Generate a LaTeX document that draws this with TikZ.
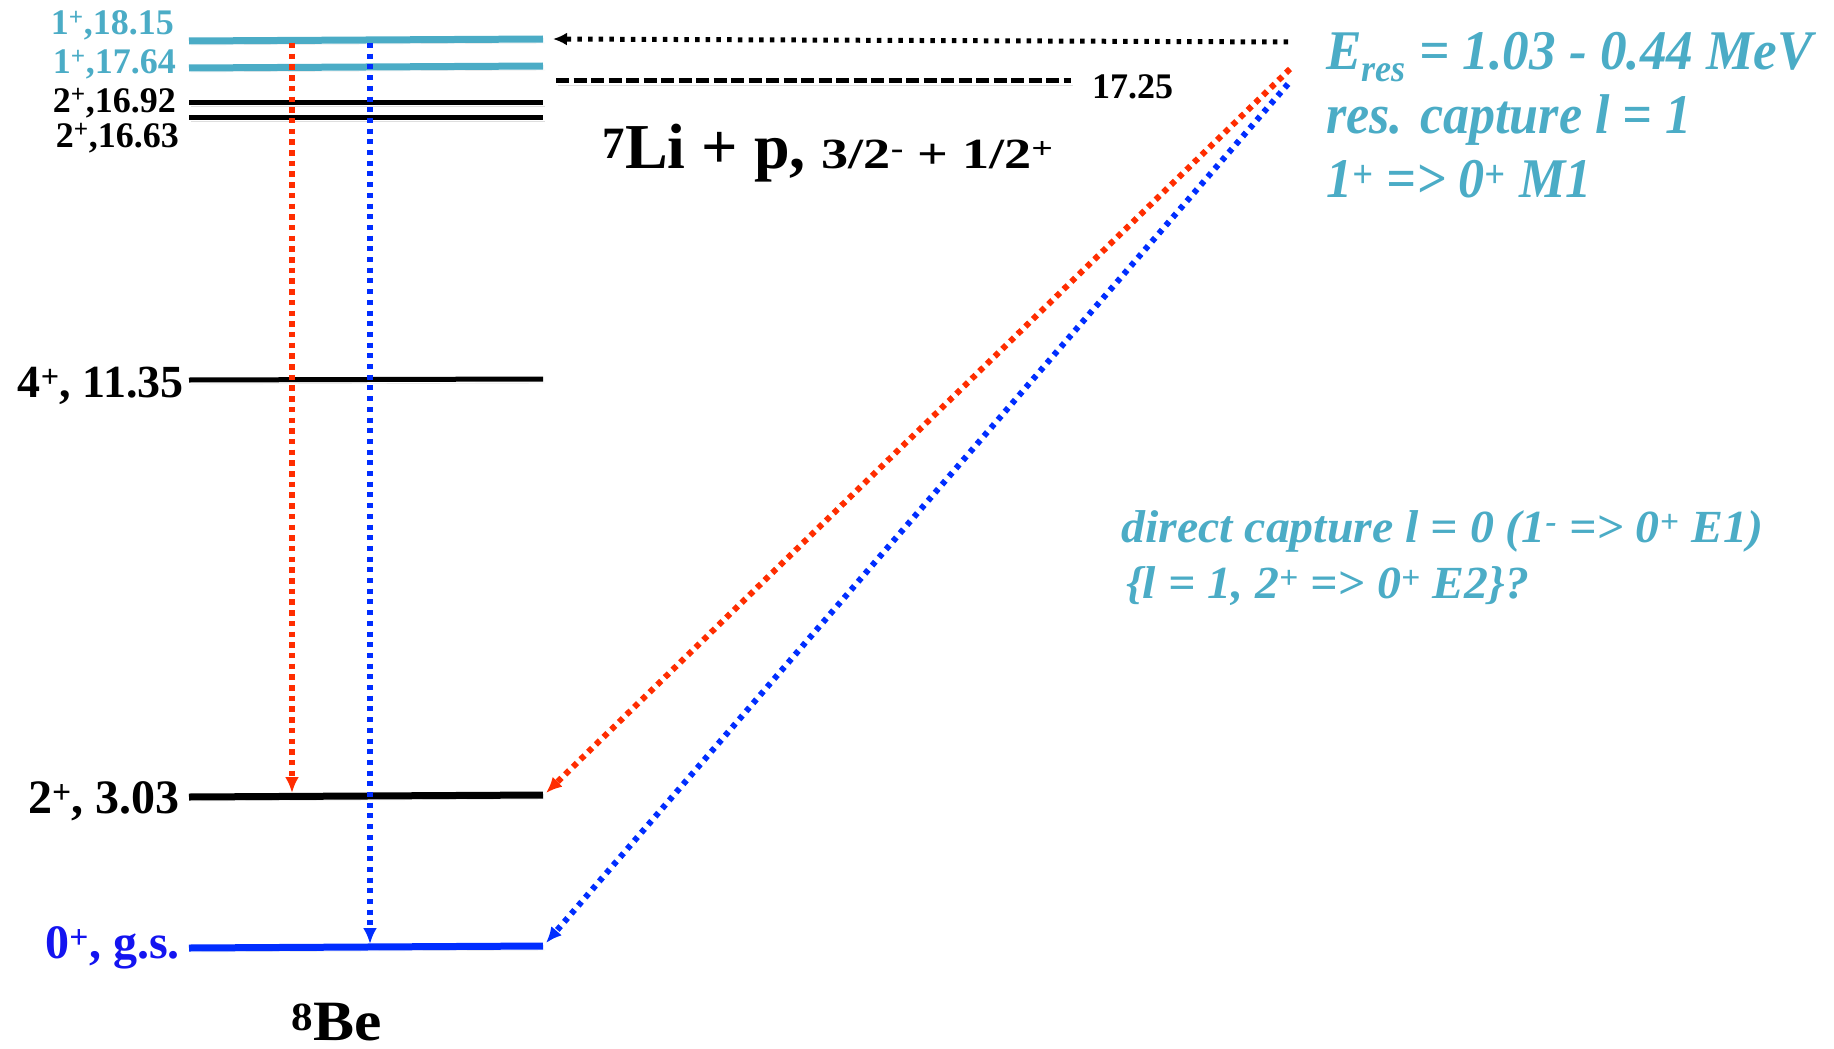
\documentclass[tikz,border=0pt]{standalone}
\usepackage{fontspec}
\setmainfont{Liberation Serif}
\usetikzlibrary{arrows.meta}
\definecolor{cy}{RGB}{75,172,198}
\definecolor{rd}{RGB}{255,45,0}
\definecolor{bl}{RGB}{0,45,255}
\definecolor{gsblue}{RGB}{20,20,240}
\newcommand{\fs}[1]{\fontsize{#1}{#1}\selectfont}
\newcommand{\nar}[2]{\scalebox{#1}[1]{#2}}
\newcommand{\spr}[1]{\textsuperscript{#1}}
\begin{document}
\begin{tikzpicture}[x=1pt,y=-1pt,
  shadow/.style={preaction={draw=black!13,transform canvas={shift={(2pt,-4pt)}}}},
  lvlcyan/.style={shadow,line width=7pt,draw=cy},
  lvlthin/.style={shadow,line width=5pt,draw=black},
  lvlthick/.style={shadow,line width=7pt,draw=black},
  lvlgs/.style={shadow,line width=7pt,draw=bl},
  lab/.style={inner sep=0pt,anchor=base east,font=\bfseries\fs{36}},
  txt/.style={inner sep=0pt,anchor=base west},
  cyt/.style={inner sep=0pt,anchor=base west,text=cy,font=\bfseries\itshape\fs{56}},
  cyd/.style={inner sep=0pt,anchor=base west,text=cy,font=\bfseries\itshape\fs{46}},
  dotred/.style={draw=rd,line width=6pt,dash pattern=on 5.5pt off 5.2pt},
  dotblue/.style={draw=bl,line width=6pt,dash pattern=on 5pt off 5.7pt},
  dotblack/.style={draw=black,line width=5pt,dash pattern=on 4.5pt off 6.2pt},
  tipr/.style={-{Latex[length=16pt,width=14pt]}},
  tipb/.style={-{Latex[length=14pt,width=13pt]}}
]
\path[use as bounding box] (0,0) rectangle (1834,1049);
% level endpoints
\coordinate (a1) at (189,41);  \coordinate (b1) at (543,39);
\coordinate (a2) at (189,68);  \coordinate (b2) at (543,66);
\coordinate (a3) at (189,102); \coordinate (b3) at (543,102);
\coordinate (a4) at (189,117); \coordinate (b4) at (543,117);
\coordinate (a5) at (189,380); \coordinate (b5) at (543,379);
\coordinate (a6) at (189,797); \coordinate (b6) at (543,795);
\coordinate (a7) at (189,948); \coordinate (b7) at (543,946);
\coordinate (thA) at (556,81); \coordinate (thB) at (1071,81);
% levels
\draw[lvlcyan] (a1) -- (b1);
\draw[lvlcyan] (a2) -- (b2);
\draw[lvlthin] (a3) -- (b3);
\draw[lvlthin] (a4) -- (b4);
\draw[lvlthin] (a5) -- (b5);
\draw[lvlthick] (a6) -- (b6);
\draw[lvlgs] (a7) -- (b7);
\draw[shadow,draw=black,line width=5pt,dash pattern=on 13pt off 4.5pt] (thA) -- (thB);
% level labels
\node[lab,text=cy] (t1815) at (174,35) {1\spr{+},18.15};
\node[lab,text=cy] (t1764) at (176,74) {1\spr{+},17.64};
\node[lab] (t1692) at (176,112) {2\spr{+},16.92};
\node[lab] (t1663) at (179,147) {2\spr{+},16.63};
\node[lab,font=\bfseries\fs{46}] (t1135) at (184,397) {4\spr{+}, 11.35};
\node[lab,font=\bfseries\fs{48}] (t303) at (180,813) {2\spr{+}, 3.03};
\node[lab,font=\bfseries\fs{48},text=gsblue] (tgs) at (180,958) {0\spr{+}, g.s.};
\node[txt,font=\bfseries\fs{57}] (tbe) at (291,1040) {\nar{1.08}{\spr{8}Be}};
\node[txt,font=\bfseries\fs{36}] (t1725) at (1092,99) {17.25};
\node[txt,font=\bfseries\fs{64}] (tli) at (602,168) {\spr{7}Li + p, {\fs{43}\nar{1.26}{3/2\spr{-} + 1/2\spr{+}}}};
% cyan texts
\node[cyt] (e1) at (1326,70) {\nar{.95}{E\raisebox{-12pt}{\fs{38}res} = 1.03 - 0.44 MeV}};
\node[cyt] (e2) at (1326,133) {\nar{.93}{res. capture l = 1}};
\node[cyt] (e3) at (1326,197) {\nar{.93}{1\spr{+} => 0\spr{+} M1}};
\node[cyd] (d1) at (1121,542) {\nar{1.04}{direct capture l = 0 (1\spr{-} => 0\spr{+} E1)}};
\node[cyd] (d2) at (1126,598) {\nar{1.04}{\{l = 1, 2\spr{+} => 0\spr{+} E2\}?}};
% transitions
\coordinate (rT) at (292,43);   \coordinate (rE) at (292,793);
\coordinate (bT) at (370,43);   \coordinate (bE) at (370,944);
\coordinate (pS) at (1288,42);  \coordinate (pE) at (553,39);
\coordinate (dRS) at (1290,69); \coordinate (dRE) at (546,793);
\coordinate (dBS) at (1288,84); \coordinate (dBE) at (546,943);
\draw[dotred,tipr] (rT) -- (rE);
\draw[dotblue,tipr] (bT) -- (bE);
\draw[dotblack,tipb] (pS) -- (pE);
\draw[dotred,tipr] (dRS) -- (dRE);
\draw[dotblue,tipr] (dBS) -- (dBE);
\end{tikzpicture}
\end{document}
